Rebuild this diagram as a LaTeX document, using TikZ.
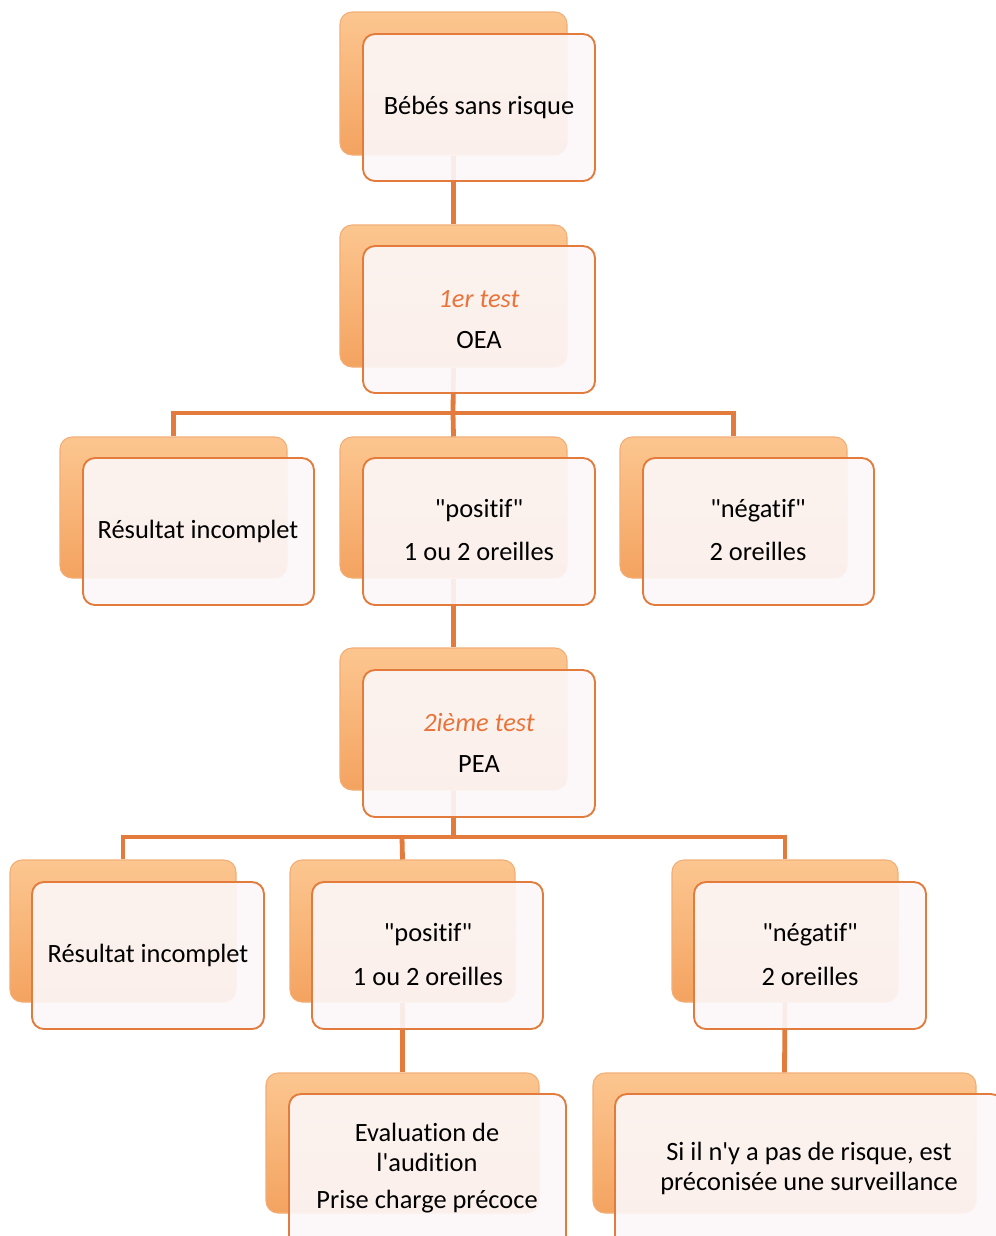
\documentclass[tikz,border=0pt]{standalone}
\usepackage{fontspec}
\setmainfont{Carlito}[Ligatures={NoCommon}]
\usetikzlibrary{fit}
\definecolor{lineor}{HTML}{E27B3B}
\definecolor{backtop}{HTML}{FCC690}
\definecolor{backbot}{HTML}{F4A360}
\definecolor{backedge}{HTML}{F2AE76}
\definecolor{frontfill}{HTML}{FCF8FA}
\definecolor{titleor}{HTML}{E8743B}
\newcommand{\dq}{\XeTeXglyph\numexpr\XeTeXcharglyph"22\relax}
\newcommand{\sq}{\XeTeXglyph\numexpr\XeTeXcharglyph"27\relax}
\tikzset{
  backbox/.style={rounded corners=9pt, top color=backtop, bottom color=backbot, draw=backedge, line width=0.8pt, inner sep=0pt},
  frontbox/.style={rounded corners=9pt, fill=frontfill, fill opacity=0.9, text opacity=1, draw=lineor, line width=1.4pt, inner sep=0pt},
  conn/.style={draw=lineor, line width=3.6pt},
  lbl/.style={align=center, inner sep=0pt, font=\fontsize{19.8}{22.5}\selectfont},
  ttl/.style={lbl, text=titleor, font=\fontsize{19.8}{22.5}\selectfont\itshape}
}
\begin{document}
\begin{tikzpicture}[x=0.75pt, y=-0.75pt]
\useasboundingbox (0,0) rectangle (996,1236);
\clip (0,0) rectangle (996,1236);
\fill[white] (0,0) rectangle (996,1236);
% back boxes
\node[backbox, fit={(340,12) (567,155)}] (b1) {};
\node[backbox, fit={(340,225) (567,367)}] (b2) {};
\node[backbox, fit={(60,437) (287,578)}] (l1) {};
\node[backbox, fit={(340,437) (567,578)}] (m1) {};
\node[backbox, fit={(620,437) (847,578)}] (r1) {};
\node[backbox, fit={(340,648) (567,790)}] (b3) {};
\node[backbox, fit={(10,860) (236,1002)}] (l2) {};
\node[backbox, fit={(290,860) (515,1002)}] (m2) {};
\node[backbox, fit={(672,860) (898,1002)}] (r2) {};
\node[backbox, fit={(266,1073) (539,1213)}] (l3) {};
\node[backbox, fit={(593,1073) (976,1213)}] (r3) {};
% connectors
\coordinate (bar1) at (453,413);
\coordinate (bar2) at (402,837);
\draw[conn] (b1.south) -- (b2.north);
\draw[conn] (b2.south) -- (bar1);
\draw[conn] (l1.north) |- (bar1) -| (r1.north);
\draw[conn] (bar1) -- (m1.north);
\draw[conn] (m1.south) -- (b3.north);
\draw[conn] (b3.south) -- (b3.south |- bar2);
\draw[conn] (l2.north) |- (bar2) -| (r2.north);
\draw[conn] (bar2) -- (m2.north);
\draw[conn] (m2.south) -- (l3.north);
\draw[conn] (r2.south) -- (r3.north);
% front boxes
\node[frontbox, fit={(363,34) (595,181)}] (f1) {};
\node[frontbox, fit={(363,246) (595,393)}] (f2) {};
\node[frontbox, fit={(83,458) (314,605)}] (fl1) {};
\node[frontbox, fit={(363,458) (595,605)}] (fm1) {};
\node[frontbox, fit={(643,458) (874,605)}] (fr1) {};
\node[frontbox, fit={(363,670) (595,817)}] (f3) {};
\node[frontbox, fit={(32,882) (264,1029)}] (fl2) {};
\node[frontbox, fit={(312,882) (543,1029)}] (fm2) {};
\node[frontbox, fit={(694,882) (926,1029)}] (fr2) {};
\node[frontbox, fit={(289,1094) (566,1260)}] (fl3) {};
\node[frontbox, fit={(615,1094) (1003,1260)}] (fr3) {};
% texts
\node[lbl] (t1) at (479,107) {Bébés sans risque};
\node[ttl] (t2a) at (479,299) {1er test};
\node[lbl] (t2b) at (479,340) {OEA};
\node[lbl] (tl1) at (198,531) {Résultat incomplet};
\node[lbl] (tm1a) at (479,511) {\dq positif\dq};
\node[lbl] (tm1b) at (479,551) {1 ou 2 oreilles};
\node[lbl] (tr1a) at (758,511) {\dq négatif\dq};
\node[lbl] (tr1b) at (758,551) {2 oreilles};
\node[ttl] (t3a) at (479,723) {2ième test};
\node[lbl] (t3b) at (479,764) {PEA};
\node[lbl] (tl2) at (148,955) {Résultat incomplet};
\node[lbl] (tm2a) at (428,935) {\dq positif\dq};
\node[lbl] (tm2b) at (428,976) {1 ou 2 oreilles};
\node[lbl] (tr2a) at (810,935) {\dq négatif\dq};
\node[lbl] (tr2b) at (810,976) {2 oreilles};
\node[lbl] (tl3a) at (427,1147) {Evaluation de\\l\sq audition};
\node[lbl] (tl3b) at (427,1202) {Prise charge précoce};
\node[lbl] (tr3) at (809,1168) {Si il n\sq y a pas de risque, est\\préconisée une surveillance};
\end{tikzpicture}
\end{document}
